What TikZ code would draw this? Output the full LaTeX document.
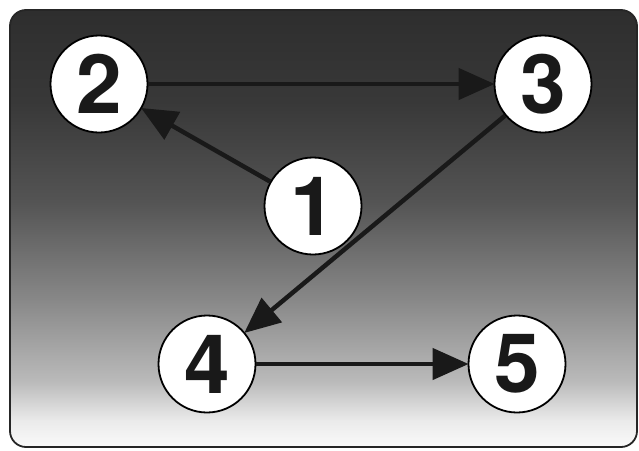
\documentclass[tikz,border=0pt]{standalone}
\usepackage{fontspec}
\newfontfamily\numfont{TeX Gyre Heros}
\usetikzlibrary{arrows.meta}
\pgfdeclareverticalshading{bgshade}{100bp}{color(0bp)=(white); color(25bp)=(black!2); color(28bp)=(black!8); color(32.5bp)=(black!27); color(42bp)=(black!47); color(53bp)=(black!67); color(64.5bp)=(black!78); color(75bp)=(black!82); color(100bp)=(black!82)}
\tikzset{
  num/.style={circle, draw=black, line width=1.8pt, fill=white, minimum size=97pt, inner sep=0pt,
    font=\numfont\bfseries\fontsize{82}{82}\selectfont, text=black!90},
  conn/.style={draw=black!90, line width=4.5pt, -{Triangle[length=36pt,width=31pt]}, shorten >=-1pt}
}
\begin{document}
\begin{tikzpicture}[x=1pt,y=-1pt]
\useasboundingbox (0,0) rectangle (639,450);
\path[shading=bgshade, draw=black!85, line width=1.8pt, rounded corners=16pt] (10,10) rectangle (637,447);
\node[num] (n2) at (99,84) {2};
\node[num] (n3) at (543,84) {3};
\node[num] (n1) at (313,206) {1};
\node[num] (n4) at (207,364) {4};
\node[num] (n5) at (517,364) {5};
\draw[conn] (n1) -- (n2);
\draw[conn] (n2) -- (n3);
\draw[conn] (n3) -- (n4);
\draw[conn] (n4) -- (n5);
\end{tikzpicture}
\end{document}
